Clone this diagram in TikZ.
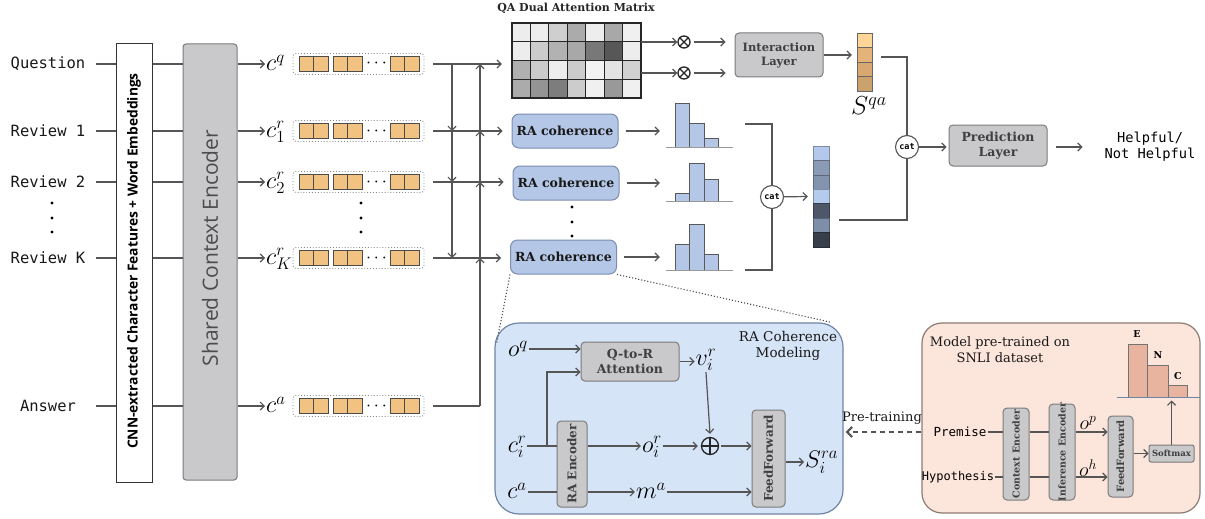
\RequirePackage{fix-cm}
\documentclass[tikz,border=0pt]{standalone}
\usepackage{fontspec}
\setmainfont{DejaVu Serif}
\newfontfamily\mono{DejaVu Sans Mono}
\newfontfamily\osans{Open Sans}
\usetikzlibrary{arrows.meta,calc}
\definecolor{lc}{HTML}{555555}
\definecolor{gf}{HTML}{C9C9CB}
\definecolor{gb}{HTML}{7B7B7B}
\definecolor{gt}{HTML}{3F3F3F}
\definecolor{bf}{HTML}{B4C7E7}
\definecolor{bb}{HTML}{7C8DB0}
\definecolor{mf}{HTML}{D6E4F7}
\definecolor{mb}{HTML}{6F85A6}
\definecolor{pf}{HTML}{FCE5DB}
\definecolor{pb}{HTML}{8D7B72}
\definecolor{of}{HTML}{F2C283}
\definecolor{sal}{HTML}{E8B4A0}
\definecolor{sq1}{HTML}{FFD599}
\definecolor{sq2}{HTML}{E3B37A}
\definecolor{sq3}{HTML}{D9A870}
\definecolor{sq4}{HTML}{CBA16C}
\definecolor{bv1}{HTML}{B3C8EC}
\definecolor{bv2}{HTML}{8A9BB5}
\definecolor{bv3}{HTML}{8494AE}
\definecolor{bv4}{HTML}{B5CBEE}
\definecolor{bv5}{HTML}{4E5669}
\definecolor{bv6}{HTML}{7E8EA8}
\definecolor{bv7}{HTML}{383E4A}
\newcommand\myfs[2]{\fontsize{#1}{#2}\selectfont}
\newcommand\vecrow[2]{%
  \node[vbox] (#1) at (358.5,#2) {};
  \foreach \xx in {299,313.5,333,347.5,390,404.5}{\draw[ocell] (\xx,#2-7.5) rectangle ++(14.5,15);}
  \node[inner sep=0,font=\myfs{18}{18}] at (376.5,#2) {$\cdots$};
}
\newcommand\hist[5]{%
  \foreach \xa/\xb/\t in {675/689/#3,689/704/#4,704/718/#5}{\draw[draw=black!65,fill=bf,line width=1pt] (\xa,#2) rectangle (\xb,\t);}
  \draw[draw=black!40,line width=1pt] (666,#2) -- (733,#2);
  \node[inner sep=0,minimum width=67pt,minimum height=10pt] (#1) at (699.5,#2-5) {};
}
\begin{document}
\begin{tikzpicture}[x=1pt,y=-1pt,
  ln/.style={draw=lc,line width=1.2pt},
  arr/.style={ln,-{Straight Barb[length=4pt,width=8pt]}},
  lbl/.style={font=\mono\myfs{15.5}{18},text=black!90,minimum width=96pt,inner sep=0},
  mlbl/.style={inner sep=1pt,font=\myfs{24}{26}},
  gbox/.style={draw=gb,fill=gf,line width=1pt,rounded corners=4pt,inner sep=0,align=center,text=gt,font=\bfseries\myfs{12}{14}},
  rabox/.style={draw=bb,fill=bf,line width=1pt,rounded corners=7pt,minimum width=106pt,minimum height=34pt,font=\bfseries\myfs{12.5}{14},text=black!90},
  vbox/.style={draw=lc!70,dotted,line width=0.9pt,rounded corners=3pt,minimum width=131pt,minimum height=21pt,inner sep=0},
  ocell/.style={draw=black!70,fill=of,line width=1pt},
  catc/.style={circle,draw=lc,fill=white,line width=1.1pt,inner sep=0,minimum size=23pt,font=\mono\bfseries\myfs{8.5}{10}},
  ptxt/.style={font=\myfs{13}{16},align=center,text=black!90},
  opc/.style={circle,draw=black!85,line width=1.3pt,inner sep=0},
]
\useasboundingbox[fill=white] (0,0) rectangle (1205,519);

% ---------- left inputs ----------
\node[lbl] (lq) at (48,64) {Question};
\node[lbl] (l1) at (48,131) {Review 1};
\node[lbl] (l2) at (48,182) {Review 2};
\node[lbl] (lK) at (48,258) {Review K};
\node[lbl] (la) at (48,406) {Answer};
\foreach \yy in {203,218,232}{\fill (52,\yy) circle (1.6pt);}

\node[draw=black!80,fill=white,line width=1pt,minimum width=36pt,minimum height=438pt,inner sep=0] (cnn) at (134,263) {};
\node[rotate=90,font=\osans\bfseries\myfs{13.8}{15}] at (134,261) {CNN-extracted Character Features + Word Embeddings};
\node[draw=gb,fill=gf,line width=1pt,rounded corners=3pt,minimum width=54pt,minimum height=436pt,inner sep=0] (sce) at (210,262) {};
\node[rotate=90,font=\osans\myfs{21}{23},text=black!70] at (210,248) {Shared Context Encoder};

% ---------- context vectors ----------
\node[mlbl,anchor=west] (cq) at (265,63) {$c^q$};
\node[mlbl,anchor=west] (c1) at (265,132) {$c^r_1$};
\node[mlbl,anchor=west] (c2) at (265,183) {$c^r_2$};
\node[mlbl,anchor=west] (cK) at (265,259) {$c^r_K$};
\node[mlbl,anchor=west] (ca) at (265,405) {$c^a$};
\vecrow{vq}{64}
\vecrow{v1}{131}
\vecrow{v2}{182}
\vecrow{vK}{258}
\vecrow{va}{406}
\foreach \yy in {203,218,232}{\fill (361,\yy) circle (1.6pt);}

\foreach \l/\c in {lq/cq,l1/c1,l2/c2,lK/cK,la/ca}{
  \draw[ln] (\l.east) -- (\l.east -| cnn.west);
  \draw[ln] (cnn.east |- \l) -- (sce.west |- \l);
  \draw[arr] (sce.east |- \l) -- (\c.west |- \l);
}

% ---------- junction lines ----------
\coordinate (dq) at (452,64);
\coordinate (d1) at (452,131);
\coordinate (d2) at (452,182);
\coordinate (dK) at (452,258);
\coordinate (uq) at (480,64);
\coordinate (u1) at (480,131);
\coordinate (u2) at (480,182);
\coordinate (uK) at (480,258);
\coordinate (ua) at (480,406);
\draw[arr] (dq) -- (d1);
\draw[arr] (d1) -- (d2);
\draw[arr] (d2) -- (dK);
\draw[ln] ([xshift=9pt]va.east) -- (ua);
\draw[arr] (ua) -- (uK);
\draw[arr] (uK) -- (u2);
\draw[arr] (u2) -- (u1);
\draw[arr] (u1) -- (uq);

% ---------- matrix ----------
\node[font=\bfseries\myfs{11}{13},text=black!85] (mtitle) at (576,8) {QA Dual Attention Matrix};
\node[inner sep=0,minimum width=129pt,minimum height=75pt] (mat) at (576.5,60.5) {};
\foreach \row [count=\r from 0] in {{7,7,19,33,7,34,6},{7,20,30,34,53,66,7},{31,20,7,20,5,11,18},{33,42,51,20,6,40,6}}{
  \foreach \v [count=\c from 0] in \row {
    \draw[draw=black!85,line width=1.1pt,fill=black!\v] (512+\c*18.43,23+\r*18.75) rectangle ++(18.43,18.75);
  }
}
\draw[arr] ([xshift=9pt]vq.east) -- ($(mat.west |- vq)+(-10,0)$);

% ---------- RA coherence ----------
\node[rabox] (ra1) at (565,131) {RA coherence};
\node[rabox] (ra2) at (566,183) {RA coherence};
\node[rabox] (ra3) at (563.5,257) {RA coherence};
\foreach \yy in {207,222,236}{\fill (572,\yy) circle (1.6pt);}
\draw[arr] ([xshift=9pt]v1.east) -- ($(ra1.west)+(-9,0)$);
\draw[arr] ([xshift=9pt]v2.east) -- ($(ra2.west |- v2)+(-9,0)$);
\draw[arr] ([xshift=9pt]vK.east) -- ($(ra3.west |- vK)+(-9,0)$);

\hist{h1}{147}{103}{123}{138}
\hist{h2}{201}{193}{163}{179}
\hist{h3}{270}{244}{224}{254}
\draw[arr] ([xshift=7pt]ra1.east) -- ($(h1.west |- ra1)+(-6,0)$);
\draw[arr] ([xshift=7pt]ra2.east) -- ($(h2.west |- ra2)+(-6,0)$);
\draw[arr] ([xshift=7pt]ra3.east) -- ($(h3.west |- ra3)+(-6,0)$);

\node[catc] (cat1) at (772,197) {cat};
\coordinate (bt) at (745,124);
\coordinate (bb) at (745,270);
\draw[ln] (bt) -| (cat1);
\draw[ln] (bb) -| (cat1);

\node[inner sep=0,minimum width=16pt,minimum height=101pt] (bv) at (821,196.5) {};
\foreach \col [count=\i from 0] in {bv1,bv2,bv3,bv4,bv5,bv6,bv7}{
  \fill[\col] (813,146+\i*14.43) rectangle ++(16,14.43);
  \draw[draw=\col!70!black,line width=0.6pt] (813,146+\i*14.43) rectangle ++(16,14.43);
}
\draw[arr] (cat1) -- ($(bv.west)+(-5,0)$);

% ---------- interaction ----------
\node[opc,minimum size=12pt] (ox1) at (684,42) {};
\node[opc,minimum size=12pt] (ox2) at (684,73) {};
\foreach \o in {ox1,ox2}{
  \draw[draw=black!85,line width=1.3pt] (\o.north west) -- (\o.south east) (\o.north east) -- (\o.south west);
}
\node[gbox,minimum width=88pt,minimum height=44pt,font=\bfseries\myfs{11.5}{14}] (int) at (779,55) {Interaction\\Layer};
\draw[arr] (mat.east |- ox1) -- (ox1.west);
\draw[arr] (mat.east |- ox2) -- (ox2.west);
\draw[arr] ([xshift=3pt]ox1.east) -- ($(int.west |- ox1)+(-9,0)$);
\draw[arr] ([xshift=3pt]ox2.east) -- ($(int.west |- ox2)+(-9,0)$);

\node[inner sep=0,minimum width=15pt,minimum height=58pt] (sq) at (864.5,62) {};
\foreach \col [count=\i from 0] in {sq1,sq2,sq3,sq4}{
  \fill[\col] (857,33+\i*14.5) rectangle ++(15,14.5);
  \draw[draw=black!60,line width=0.8pt] (857,33+\i*14.5) rectangle ++(15,14.5);
}
\draw[arr] (int.east) -- ($(sq.west |- int)+(-5,0)$);
\node[font=\myfs{26}{28}] (sqlab) at (869,106) {$S^{qa}$};

\node[catc] (cat2) at (907,147) {cat};
\coordinate (sqo) at (881,57);
\coordinate (bvo) at (839,220);
\draw[ln] (sqo) -| (cat2);
\draw[ln] (bvo) -| (cat2);
\node[gbox,minimum width=98pt,minimum height=41pt,font=\bfseries\myfs{12.5}{15}] (pred) at (998,145.5) {Prediction\\Layer};
\draw[arr] (cat2) -- ($(pred.west |- cat2)+(-2,0)$);
\node[font=\mono\myfs{13.7}{16},align=center] (out) at (1150,147) {Helpful/\\Not Helpful};
\draw[arr] ([xshift=8pt]pred.east |- cat2) -- ++(27,0);

% ---------- RA coherence modeling ----------
\node[draw=mb,fill=mf,line width=1.2pt,rounded corners=24pt,minimum width=348pt,minimum height=191pt,inner sep=0] (model) at (669,418.5) {};
\draw[draw=black!70,dotted,line width=1.1pt] (ra3.south west) -- ($(model.north west)+(2,22)$);
\draw[draw=black!70,dotted,line width=1.1pt] (ra3.south east) -- ($(model.north east)+(-12,0)$);
\node[ptxt,font=\myfs{13.5}{16}] (mtl) at (788,346) {RA Coherence\\Modeling};

\node[mlbl] (oq) at (518,349) {$o^q$};
\node[gbox,minimum width=98pt,minimum height=39pt,font=\bfseries\myfs{12.5}{15}] (qr) at (630,361.5) {Q-to-R\\Attention};
\node[mlbl] (vir) at (706,360) {$v^r_i$};
\node[mlbl] (cir) at (517,447) {$c^r_i$};
\node[mlbl] (cam) at (517,491) {$c^a$};
\node[gbox,minimum width=30pt,minimum height=86pt] (raenc) at (572,464) {};
\node[rotate=90,font=\bfseries\myfs{12}{14},text=gt] at (572,464) {RA Encoder};
\node[mlbl] (oir) at (652,447) {$o^r_i$};
\node[mlbl] (ma) at (651,491) {$m^a$};
\node[opc,minimum size=17pt] (opl) at (710,446) {};
\draw[draw=black!85,line width=1.3pt] (opl.north) -- (opl.south) (opl.west) -- (opl.east);
\node[gbox,minimum width=33pt,minimum height=97pt] (ff) at (768.5,458.5) {};
\node[rotate=90,font=\bfseries\myfs{12}{14},text=gt] at (768.5,458.5) {FeedForward};
\node[mlbl,anchor=west] (sra) at (804,462) {$S^{ra}_i$};

\draw[arr] (oq.east |- 0,349) -- (qr.west |- 0,349);
\coordinate (br) at (547,446);
\draw[arr] (br) |- ([yshift=-10.5pt]qr.west);
\draw[arr] (qr.east) -- (vir.west |- qr.east);
\draw[ln] (cir.east |- br) -- (raenc.west |- br);
\draw[arr] (raenc.east |- br) -- (oir.west |- br);
\draw[arr] (oir.east |- opl) -- ([xshift=-3pt]opl.west);
\draw[arr] (vir.south) -- ([yshift=3pt]opl.north);
\draw[arr] ([xshift=2pt]opl.east) -- (ff.west |- opl);
\draw[arr] (ff.east |- 0,462) -- (sra.west |- 0,462);
\draw[ln] (cam.east |- 0,492) -- (raenc.west |- 0,492);
\draw[arr] (raenc.east |- 0,492) -- (ma.west |- 0,492);
\draw[arr] (ma.east |- 0,492) -- (ff.west |- 0,492);

% ---------- SNLI model ----------
\node[draw=pb,fill=pf,line width=1.2pt,rounded corners=20pt,minimum width=278pt,minimum height=190pt,inner sep=0] (snli) at (1061,418) {};
\node[ptxt] (stl) at (1000,350) {Model pre-trained on\\SNLI dataset};
\foreach \xa/\xb/\t in {1128/1147/344,1147/1168/365,1168/1187/385}{\draw[draw=black!55,fill=sal,line width=0.8pt] (\xa,397) rectangle (\xb,\t);}
\draw[draw=mb,line width=1pt] (1117,397) -- (1200,397);
\node[font=\bfseries\myfs{9.5}{10}] at (1137,334) {E};
\node[font=\bfseries\myfs{9.5}{10}] at (1158,355) {N};
\node[font=\bfseries\myfs{9.5}{10}] at (1178,376) {C};

\node[font=\mono\myfs{12.5}{14},inner sep=1pt] (prem) at (960,432) {Premise};
\node[font=\mono\myfs{12}{14},inner sep=1pt] (hyp) at (958,477) {Hypothesis};
\node[gbox,minimum width=26pt,minimum height=92pt] (cenc) at (1016,454) {};
\node[rotate=90,font=\bfseries\myfs{9.5}{11},text=gt] at (1016,454) {Context Encoder};
\node[gbox,minimum width=26pt,minimum height=96pt] (ienc) at (1062,452) {};
\node[rotate=90,font=\bfseries\myfs{9.5}{11},text=gt] at (1062,452) {Inference Encoder};
\node[gbox,minimum width=25pt,minimum height=81pt] (ffs) at (1120.5,456.5) {};
\node[rotate=90,font=\bfseries\myfs{10}{11},text=gt] at (1120.5,456.5) {FeedForward};
\node[gbox,minimum width=45pt,minimum height=17pt,rounded corners=2pt,font=\bfseries\myfs{8.5}{10}] (sm) at (1171.5,453.5) {Softmax};
\node[font=\myfs{20}{22}] (op) at (1088,423) {$o^p$};
\node[font=\myfs{20}{22}] (oh) at (1088,468) {$o^h$};

\draw[ln] (prem.east) -- (cenc.west |- prem);
\draw[ln] (hyp.east) -- (cenc.west |- hyp);
\draw[ln] (cenc.east |- prem) -- (ienc.west |- prem);
\draw[ln] (cenc.east |- hyp) -- (ienc.west |- hyp);
\draw[arr] (ienc.east |- prem) -- (ffs.west |- prem);
\draw[arr] (ienc.east |- hyp) -- (ffs.west |- hyp);
\draw[arr] (ffs.east |- sm) -- (sm.west);
\draw[arr] (sm.north) -- ++(0,-44);

% ---------- pre-training ----------
\draw[draw=lc,line width=2.2pt,dash pattern=on 5pt off 4pt,-{Straight Barb[length=5pt,width=10pt]}] (snli.west |- prem) -- ($(model.east |- prem)+(2,0)$);
\node[ptxt] (ptl) at (882,418) {Pre-training};
\end{tikzpicture}
\end{document}
